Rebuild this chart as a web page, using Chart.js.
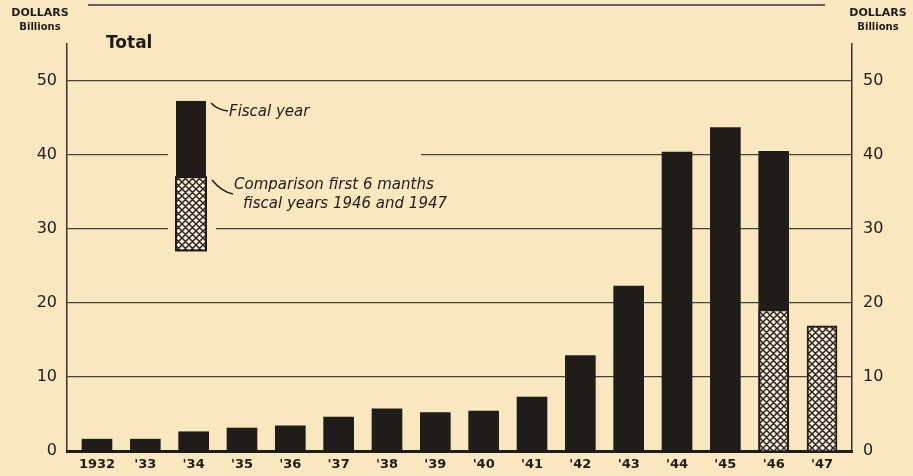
<!DOCTYPE html>
<html>
<head>
<meta charset="utf-8">
<script src="https://cdn.jsdelivr.net/npm/chart.js@4"></script>
<style>
  html, body { margin: 0; padding: 0; background: #f9e7bf; }
  #wrap { position: relative; width: 913px; height: 476px; }
</style>
</head>
<body>
<div id="wrap"><canvas id="diagram" width="913" height="476"></canvas></div>
<script>
// data (billions of dollars)
var years = ['1932', "'33", "'34", "'35", "'36", "'37", "'38", "'39", "'40", "'41", "'42", "'43", "'44", "'45", "'46", "'47"];
var fiscalYear = [1.6, 1.6, 2.6, 3.1, 3.4, 4.6, 5.7, 5.2, 5.4, 7.3, 12.9, 22.3, 40.4, 43.7, 40.5, null];
var firstSixMonths = [null, null, null, null, null, null, null, null, null, null, null, null, null, null, 19.1, 16.9];
var yTicks = [0, 10, 20, 30, 40, 50];

var ink = '#1f1c19';
var paper = '#f9e7bf';

// cross hatch fill
function hatch() {
  var c = document.createElement('canvas');
  c.width = 7; c.height = 7;
  var g = c.getContext('2d');
  g.fillStyle = '#f6ecd6';
  g.fillRect(0, 0, 7, 7);
  g.strokeStyle = '#2a2622';
  g.lineWidth = 1.5;
  g.beginPath();
  g.moveTo(0, 0); g.lineTo(7, 7);
  g.moveTo(7, 0); g.lineTo(0, 7);
  g.moveTo(-1, 6); g.lineTo(1, 8);
  g.moveTo(6, -1); g.lineTo(8, 1);
  g.stroke();
  return g.createPattern(c, 'repeat');
}
var cross = hatch();

function pts(arr) {
  var out = [];
  arr.forEach(function (v, i) { if (v !== null) out.push({ x: i, y: v }); });
  return out;
}

var decor = {
  id: 'decor',
  afterDatasetsDraw: function (chart) {
    var c = chart.ctx;
    var y = chart.scales.y;
    c.save();
    // top rule
    c.strokeStyle = '#3a332c';
    c.lineWidth = 1.3;
    c.beginPath(); c.moveTo(88, 5); c.lineTo(825, 5); c.stroke();

    // axis captions
    c.fillStyle = ink;
    c.textAlign = 'center';
    c.textBaseline = 'middle';
    c.font = 'bold 11px "DejaVu Sans"';
    c.fillText('DOLLARS', 40, 13);
    c.fillText('DOLLARS', 878, 13);
    c.font = 'bold 10px "DejaVu Sans"';
    c.fillText('Billions', 40, 27);
    c.fillText('Billions', 878, 27);
    c.textAlign = 'left';
    c.font = 'bold 17px "DejaVu Sans"';
    c.fillText('Total', 106, 44);

    // legend: clear grid behind it
    c.fillStyle = paper;
    c.fillRect(168, y.getPixelForValue(48), 48, y.getPixelForValue(26) - y.getPixelForValue(48));
    c.fillRect(216, y.getPixelForValue(41), 205, y.getPixelForValue(38.5) - y.getPixelForValue(41));
    // swatch
    var sx = 176, sw = 30;
    var top = y.getPixelForValue(47.3), mid = y.getPixelForValue(37), bot = y.getPixelForValue(27.1);
    c.fillStyle = ink;
    c.fillRect(sx, top, sw, mid - top);
    c.fillStyle = cross;
    c.fillRect(sx, mid, sw, bot - mid);
    c.strokeStyle = ink;
    c.lineWidth = 2;
    c.strokeRect(sx, mid, sw, bot - mid);

    // pointers
    c.lineWidth = 1.5;
    c.beginPath();
    c.moveTo(211, 103); c.quadraticCurveTo(218, 110, 228, 111);
    c.moveTo(212, 180); c.quadraticCurveTo(222, 192, 233, 194);
    c.stroke();

    c.fillStyle = ink;
    c.font = 'italic 15px "DejaVu Sans"';
    c.fillText('Fiscal year', 229, 112);
    c.fillText('Comparison first 6 manths', 234, 185);
    c.fillText('fiscal years 1946 and 1947', 243, 204);
    c.restore();
  }
};

var ctx = document.getElementById('diagram').getContext('2d');
var grafik = new Chart(ctx, {
  type: 'bar',
  data: {
    datasets: [{
      label: 'Comparison first 6 months fiscal years 1946 and 1947',
      data: pts(firstSixMonths),
      backgroundColor: cross,
      borderColor: ink,
      borderWidth: 2,
      borderSkipped: 'bottom',
      barThickness: 30,
      grouped: false,
      order: 0
    }, {
      label: 'Fiscal year',
      data: pts(fiscalYear),
      backgroundColor: ink,
      borderWidth: 0,
      barThickness: 30,
      grouped: false,
      order: 1
    }]
  },
  options: {
    responsive: false,
    animation: false,
    layout: { padding: { top: 44, left: 0, right: 0, bottom: 0 } },
    plugins: { legend: { display: false }, tooltip: { enabled: false } },
    scales: {
      x: {
        type: 'linear',
        offset: false,
        min: -0.62,
        max: 15.62,
        grid: { display: false, drawTicks: false },
        border: { color: ink, width: 3 },
        afterFit: function (s) { s.height = 25; },
        ticks: {
          stepSize: 1,
          includeBounds: false,
          autoSkip: false,
          maxRotation: 0,
          padding: 6,
          color: ink,
          font: { family: '"DejaVu Sans"', size: 13, weight: 'bold' },
          callback: function (v) { return years[v]; }
        }
      },
      y: {
        position: 'left',
        min: 0,
        max: 55,
        afterFit: function (s) { s.width = 67; },
        afterBuildTicks: function (s) { s.ticks = yTicks.map(function (v) { return { value: v }; }); },
        grid: {
          drawTicks: false,
          color: function (c) { return c.tick.value === 0 ? 'rgba(0,0,0,0)' : '#4a423a'; },
          lineWidth: 1.2
        },
        border: { color: '#3a332c', width: 1.5 },
        ticks: {
          padding: 10,
          color: ink,
          font: { family: '"DejaVu Sans"', size: 16 }
        }
      },
      y2: {
        position: 'right',
        min: 0,
        max: 55,
        afterFit: function (s) { s.width = 61; },
        afterBuildTicks: function (s) { s.ticks = yTicks.map(function (v) { return { value: v }; }); },
        grid: { display: false, drawTicks: false },
        border: { color: '#3a332c', width: 1.5 },
        ticks: {
          padding: 11,
          color: ink,
          font: { family: '"DejaVu Sans"', size: 16 }
        }
      }
    }
  },
  plugins: [decor]
});
</script>
</body>
</html>
